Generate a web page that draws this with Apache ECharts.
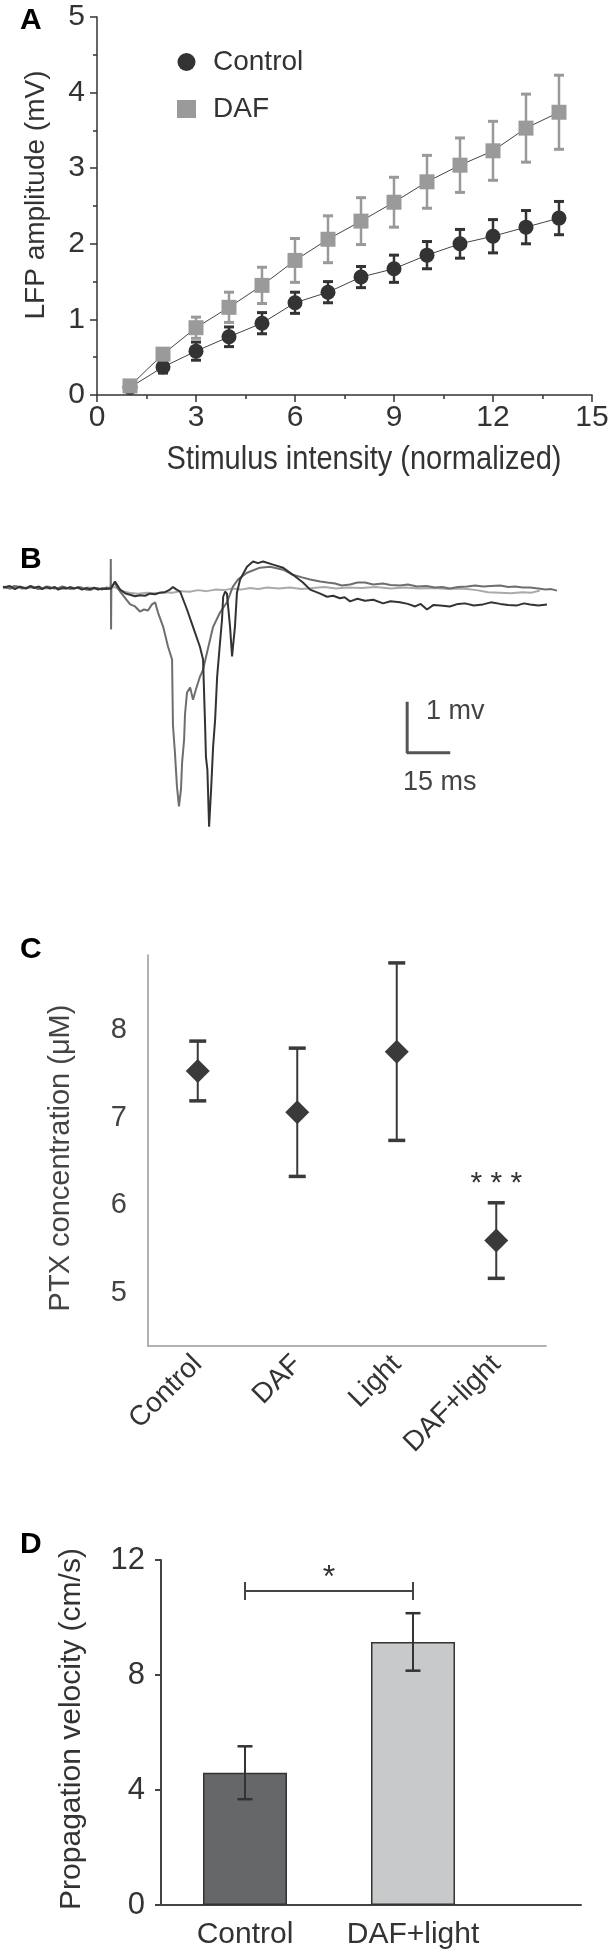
<!DOCTYPE html>
<html>
<head>
<meta charset="utf-8">
<script src="https://cdn.jsdelivr.net/npm/echarts@6/dist/echarts.min.js"></script>
<style>
html, body { margin: 0; padding: 0; background: #fff; }
#chart { width: 610px; height: 1957px; }
</style>
</head>
<body>
<div id="chart"></div>
<script>
//----- panel A : LFP amplitude vs stimulus intensity
var intensity = [1, 2, 3, 4, 5, 6, 7, 8, 9, 10, 11, 12, 13, 14];
var ctrlMean = [0.10, 0.37, 0.58, 0.77, 0.95, 1.22, 1.36, 1.56, 1.67, 1.85, 2.00, 2.10, 2.22, 2.34];
var ctrlErr  = [0.03, 0.08, 0.12, 0.13, 0.14, 0.14, 0.14, 0.14, 0.18, 0.18, 0.19, 0.22, 0.22, 0.22];
var dafMean  = [0.12, 0.54, 0.89, 1.16, 1.45, 1.78, 2.06, 2.30, 2.55, 2.82, 3.04, 3.23, 3.53, 3.74];
var dafErr   = [0.03, 0.04, 0.14, 0.20, 0.24, 0.29, 0.31, 0.31, 0.33, 0.35, 0.36, 0.39, 0.45, 0.49];

//----- panel B : example traces, [time ms, mV]
var traceLight = [[0,0.02],[3,0],[6,0.03],[9,0.01],[12,0.03],[15,0],[18,0.02],[21,-0.01],[24,0.02],[27,0],[30,0.02],[33,-0.01],[36,0.01],[39,0.03],[41,-0.04],[44,-0.08],[47,-0.1],[50,-0.08],[53,-0.09],[56,-0.07],[59,-0.08],[62,-0.05],[65,-0.06],[68,-0.03],[71,-0.05],[74,-0.02],[77,-0.03],[80,0],[83,-0.02],[86,0.01],[89,-0.01],[92,0.02],[96,0],[100,0.02],[104,-0.01],[108,0.01],[112,0.03],[116,0],[120,0.02],[125,0.01],[130,0.03],[135,0],[140,0.02],[145,0],[150,0.01],[155,-0.01],[160,0],[165,-0.03],[169,-0.07],[173,-0.08],[177,-0.09],[181,-0.07],[184,-0.08],[187,-0.04]];
var traceMid = [[0,0.04],[1.6,0.01],[2.4,0],[3.8,0.05],[5.2,0.04],[6.6,0],[8,0.01],[9.4,0.05],[10.8,0.03],[12.2,-0.01],[13.6,0],[15,0.04],[16.4,0.03],[17.8,0],[19.2,0.01],[20.6,0.04],[22,0.02],[23.4,-0.01],[24.7,0],[26.1,0.03],[27.5,0.02],[28.9,-0.02],[30.3,-0.03],[31.7,0],[33.1,0.01],[34.5,-0.02],[35.9,0.02],[37.5,0],[37.55,0.58],[37.65,-0.8],[37.75,0.05],[39,0.1],[40.8,-0.06],[42.5,-0.18],[44.3,-0.31],[46,-0.35],[47.7,-0.45],[49.1,-0.41],[50.5,-0.43],[51.9,-0.31],[53,-0.27],[54,-0.47],[55.8,-0.75],[57.5,-1.14],[58.9,-1.39],[59.2,-2.67],[59.9,-3.22],[60.6,-3.88],[61.3,-4.27],[62,-3.94],[62.4,-3.41],[63.1,-2.96],[63.4,-2.47],[64.1,-2.04],[65.2,-1.94],[66.2,-2.18],[67.2,-1.98],[68.6,-1.73],[69.7,-1.59],[71.1,-1.25],[73.2,-0.75],[75.6,-0.47],[78,-0.27],[80.1,0.04],[81.9,0.18],[85,0.31],[89.5,0.41],[93,0.43],[97.6,0.37],[101,0.27],[104.2,0.22],[107,0.18],[110.5,0.14],[113,0.12],[115.7,0.1],[118,0.06],[120.9,0.08],[123.5,0.12],[126.1,0.12],[129,0.08],[132.4,0.1],[135,0.07],[138.3,0.06],[141,0.08],[144.3,0.04],[147.5,0.05],[150.5,0.02],[153,0.03],[155.7,0],[158.5,0.03],[161.7,0.04],[164.5,0.06],[167.2,0.04],[170,0.05],[173.2,0.06],[176,0.03],[178.4,0.04],[181,0.02],[183.6,0.02],[186.5,0],[188.9,-0.02],[191,-0.01],[193,-0.04]];
var traceDark = [[0,0.02],[2.4,0.05],[4.2,-0.01],[5.8,0.04],[8,0],[9.6,0.05],[10.8,0.01],[12.5,0.04],[13.6,-0.01],[15.2,0.03],[16.4,0],[18,0.03],[19.2,-0.02],[21,0.02],[22,0],[23.5,0.03],[24.7,0],[26.2,0.02],[27.5,-0.02],[29,0.01],[30.3,-0.01],[31.8,0.02],[33.1,-0.02],[34.5,0],[35.9,-0.01],[37.6,0],[39,0.14],[40.8,-0.02],[42.5,-0.09],[44.3,-0.12],[46,-0.15],[47.7,-0.13],[49.5,-0.14],[51.2,-0.1],[53,-0.11],[54.7,-0.08],[56.4,-0.07],[58.2,-0.02],[59.2,0.03],[60.5,-0.02],[61.7,-0.06],[62.4,-0.16],[64.1,-0.41],[66.2,-0.75],[68.6,-1.14],[69.7,-1.39],[70.4,-2.67],[70.7,-3.3],[71.2,-3.55],[71.8,-4.67],[72.5,-3.94],[73.2,-3.1],[73.9,-2.57],[74.6,-1.73],[75.6,-1.06],[76.3,-0.61],[76.7,-0.16],[77.4,-0.06],[78,-0.1],[79.1,-0.75],[79.8,-1.33],[80.8,-0.75],[81.5,-0.08],[82.6,0.18],[85,0.43],[87.1,0.53],[88.8,0.5],[90.6,0.53],[94.1,0.47],[97.6,0.41],[101,0.27],[104.5,0.12],[107,-0.02],[110.5,-0.1],[112.9,-0.16],[115,-0.14],[117.4,-0.19],[119,-0.17],[120.9,-0.25],[123.5,-0.2],[126.1,-0.24],[129,-0.22],[132.4,-0.29],[135,-0.25],[138.3,-0.27],[141,-0.3],[143.6,-0.35],[145.5,-0.3],[147.7,-0.41],[150,-0.32],[152.3,-0.33],[155.7,-0.35],[158.5,-0.3],[161,-0.29],[164,-0.33],[167.2,-0.31],[170,-0.27],[173.2,-0.3],[176,-0.32],[179.1,-0.33],[181.5,-0.29],[183.6,-0.31],[186.5,-0.33],[189.5,-0.31]];
var scaleOrigin = [140.8, -3.22];   // corner of the scale bar
var scaleMs = 15, scaleMv = 1;

//----- panel C : PTX concentration
var ptxGroups = ['Control', 'DAF', 'Light', 'DAF+light'];
var ptxMean = [7.53, 7.06, 7.75, 5.60];
var ptxErr  = [0.34, 0.73, 1.01, 0.43];
var ptxTicks = [5, 6, 7, 8];

//----- panel D : propagation velocity
var velGroups = ['Control', 'DAF+light'];
var velMean = [4.60, 9.15];
var velErr  = [0.92, 1.00];
var velSigLevel = 10.92;

var FONT = 'Liberation Sans, Arial, sans-serif';

function errorBars(capW, lw, capLw, color) {
    return function (params, api) {
        var x = api.value(0);
        var lo = api.coord([x, api.value(1)]);
        var hi = api.coord([x, api.value(2)]);
        var h = capW / 2;
        return {
            type: 'group',
            children: [
                { type: 'line', shape: { x1: hi[0], y1: hi[1], x2: lo[0], y2: lo[1] }, style: { stroke: color, lineWidth: lw } },
                { type: 'line', shape: { x1: hi[0] - h, y1: hi[1], x2: hi[0] + h, y2: hi[1] }, style: { stroke: color, lineWidth: capLw } },
                { type: 'line', shape: { x1: lo[0] - h, y1: lo[1], x2: lo[0] + h, y2: lo[1] }, style: { stroke: color, lineWidth: capLw } }
            ]
        };
    };
}
function errData(xs, m, e) {
    return m.map(function (v, i) { return [xs[i], v - e[i], v + e[i]]; });
}
function textMark(txt, size) {
    return function (params, api) {
        var p = api.coord([api.value(0), api.value(1)]);
        return { type: 'text', x: p[0], y: p[1],
            style: { text: txt, fill: '#333', font: size + 'px ' + FONT, align: 'center', verticalAlign: 'middle' } };
    };
}

var dom = document.getElementById('chart');
var myChart = echarts.init(dom, null, { renderer: 'canvas' });

var option = {
    animation: false,
    backgroundColor: '#fff',
    textStyle: { fontFamily: FONT },
    grid: [
        { left: 97, top: 17, width: 495, height: 378, outerBoundsMode: 'none' },
        { left: 3, top: 558, width: 554, height: 311, outerBoundsMode: 'none' },
        { left: 148, top: 955, width: 398, height: 391, outerBoundsMode: 'none' },
        { left: 161, top: 1560, width: 420, height: 345, outerBoundsMode: 'none' }
    ],
    legend: {
        left: 172, top: 43, orient: 'vertical', itemGap: 19,
        itemWidth: 19, itemHeight: 18,
        textStyle: { fontSize: 28, color: '#333', fontFamily: FONT, padding: [0, 0, 0, 12] },
        data: [{ name: 'Control', icon: 'circle' }, { name: 'DAF', icon: 'rect' }]
    },
    xAxis: [
        { gridIndex: 0, type: 'value', min: 0, max: 15, interval: 3,
          axisLine: { lineStyle: { color: '#333', width: 1.5 } },
          axisTick: { show: true, length: 7, lineStyle: { color: '#333', width: 1.5 } },
          minorTick: { show: true, splitNumber: 2, length: 4, lineStyle: { color: '#333', width: 1.5 } },
          splitLine: { show: false },
          axisLabel: { fontSize: 30, color: '#333', margin: 8, fontFamily: FONT } },
        { gridIndex: 1, type: 'value', min: 0, max: 193, show: false },
        { gridIndex: 2, type: 'category', data: ptxGroups,
          axisLine: { lineStyle: { color: '#999', width: 1.5 } },
          axisTick: { show: false },
          axisLabel: { fontSize: 28, color: '#333', rotate: 45, margin: 14, interval: 0, fontFamily: FONT } },
        { gridIndex: 3, type: 'value', min: 0.5, max: 3,
          axisLine: { lineStyle: { color: '#444', width: 2 } },
          axisTick: { show: false },
          splitLine: { show: false },
          axisLabel: { fontSize: 30, color: '#333', margin: 15, fontFamily: FONT,
              customValues: [1, 2],
              formatter: function (v) { return velGroups[v - 1] || ''; } } }
    ],
    yAxis: [
        { gridIndex: 0, type: 'value', min: 0, max: 5, interval: 1,
          axisLine: { show: true, lineStyle: { color: '#333', width: 1.5 } },
          axisTick: { show: true, length: 7, lineStyle: { color: '#333', width: 1.5 } },
          minorTick: { show: true, splitNumber: 2, length: 4, lineStyle: { color: '#333', width: 1.5 } },
          splitLine: { show: false },
          axisLabel: { fontSize: 30, color: '#333', margin: 12, fontFamily: FONT } },
        { gridIndex: 1, type: 'value', min: -5.5, max: 0.6, show: false },
        { gridIndex: 2, type: 'value', min: 4.4, max: 8.85,
          axisLine: { show: true, lineStyle: { color: '#999', width: 1.5 } },
          axisTick: { show: false },
          splitLine: { show: false },
          axisLabel: { fontSize: 29, color: '#444', margin: 21, fontFamily: FONT,
              customValues: ptxTicks } },
        { gridIndex: 3, type: 'value', min: 0, max: 12, interval: 4,
          axisLine: { show: true, lineStyle: { color: '#444', width: 2 } },
          axisTick: { show: true, length: 6, lineStyle: { color: '#444', width: 2 } },
          splitLine: { show: false },
          axisLabel: { fontSize: 31, color: '#333', margin: 16, fontFamily: FONT } }
    ],
    series: [
        // A
        { type: 'custom', name: 'ctrlErr', xAxisIndex: 0, yAxisIndex: 0, z: 3,
          renderItem: errorBars(10, 2.5, 3, '#333'),
          encode: { x: 0, y: [1, 2] }, data: errData(intensity, ctrlMean, ctrlErr) },
        { type: 'custom', name: 'dafErr', xAxisIndex: 0, yAxisIndex: 0, z: 3,
          renderItem: errorBars(10, 2.5, 3, '#999'),
          encode: { x: 0, y: [1, 2] }, data: errData(intensity, dafMean, dafErr) },
        { type: 'line', name: 'Control', xAxisIndex: 0, yAxisIndex: 0, z: 4,
          symbol: 'circle', symbolSize: 15,
          itemStyle: { color: '#333', opacity: 1 },
          lineStyle: { color: '#444', width: 1 },
          data: intensity.map(function (x, i) { return [x, ctrlMean[i]]; }) },
        { type: 'line', name: 'DAF', xAxisIndex: 0, yAxisIndex: 0, z: 4,
          symbol: 'rect', symbolSize: 15,
          itemStyle: { color: '#9a9a9a', opacity: 1 },
          lineStyle: { color: '#444', width: 1 },
          data: intensity.map(function (x, i) { return [x, dafMean[i]]; }) },
        // B
        { type: 'line', xAxisIndex: 1, yAxisIndex: 1, showSymbol: false, z: 2,
          lineStyle: { color: '#aaaaaa', width: 2 }, data: traceLight },
        { type: 'line', xAxisIndex: 1, yAxisIndex: 1, showSymbol: false, z: 3,
          lineStyle: { color: '#6e6e6e', width: 2 }, data: traceMid },
        { type: 'line', xAxisIndex: 1, yAxisIndex: 1, showSymbol: false, z: 4,
          lineStyle: { color: '#333', width: 2 }, data: traceDark },
        { type: 'line', xAxisIndex: 1, yAxisIndex: 1, showSymbol: false,
          lineStyle: { color: '#555', width: 3 },
          data: [[scaleOrigin[0], scaleOrigin[1] + scaleMv], scaleOrigin, [scaleOrigin[0] + scaleMs, scaleOrigin[1]]] },
        // C
        { type: 'custom', xAxisIndex: 2, yAxisIndex: 2, z: 3,
          renderItem: errorBars(17, 2, 3.5, '#3a3a3a'),
          encode: { x: 0, y: [1, 2] }, data: errData([0, 1, 2, 3], ptxMean, ptxErr) },
        { type: 'scatter', xAxisIndex: 2, yAxisIndex: 2, z: 4,
          symbol: 'diamond', symbolSize: 24, itemStyle: { color: '#3a3a3a', opacity: 1 },
          data: ptxMean.map(function (v, i) { return [i, v]; }) },
        { type: 'custom', xAxisIndex: 2, yAxisIndex: 2, z: 4,
          renderItem: textMark('* * *', 30),
          data: [[3, ptxMean[3] + ptxErr[3] + 0.22]] },
        // D
        { type: 'bar', xAxisIndex: 3, yAxisIndex: 3, barWidth: 84, z: 2,
          itemStyle: { borderColor: '#333', borderWidth: 1.5 },
          data: velMean.map(function (v, i) {
              return { value: [i + 1, v], itemStyle: { color: i === 0 ? '#666769' : '#c8c9cb' } };
          }) },
        { type: 'custom', xAxisIndex: 3, yAxisIndex: 3, z: 3,
          renderItem: errorBars(15, 2, 2.5, '#333'),
          encode: { x: 0, y: [1, 2] }, data: errData([1, 2], velMean, velErr) },
        { type: 'custom', xAxisIndex: 3, yAxisIndex: 3, z: 3,
          renderItem: function (params, api) {
              var a = api.coord([api.value(0), api.value(2)]);
              var b = api.coord([api.value(1), api.value(2)]);
              var st = { stroke: '#444', lineWidth: 2 };
              return { type: 'group', children: [
                  { type: 'line', shape: { x1: a[0], y1: a[1], x2: b[0], y2: b[1] }, style: st },
                  { type: 'line', shape: { x1: a[0], y1: a[1] - 9, x2: a[0], y2: a[1] + 9 }, style: st },
                  { type: 'line', shape: { x1: b[0], y1: b[1] - 9, x2: b[0], y2: b[1] + 9 }, style: st }
              ] };
          },
          encode: { x: [0, 1], y: 2 }, data: [[1, 2, velSigLevel]] },
        { type: 'custom', xAxisIndex: 3, yAxisIndex: 3, z: 3,
          renderItem: textMark('*', 32),
          data: [[1.5, velSigLevel + 0.45]] }
    ],
    graphic: [
        { type: 'text', left: 20, top: 6, style: { text: 'A', font: 'bold 30px ' + FONT, fill: '#000' } },
        { type: 'text', left: 20, top: 545, style: { text: 'B', font: 'bold 30px ' + FONT, fill: '#000' } },
        { type: 'text', left: 20, top: 935, style: { text: 'C', font: 'bold 30px ' + FONT, fill: '#000' } },
        { type: 'text', left: 20, top: 1530, style: { text: 'D', font: 'bold 30px ' + FONT, fill: '#000' } },
        { type: 'text', x: 36, y: 195, rotation: Math.PI / 2,
          style: { text: 'LFP amplitude (mV)', font: '28px ' + FONT, fill: '#333', align: 'center', verticalAlign: 'middle' } },
        { type: 'text', x: 364, y: 460, scaleY: 1.15,
          style: { text: 'Stimulus intensity (normalized)', font: '29px ' + FONT, fill: '#333', align: 'center', verticalAlign: 'middle' } },
        { type: 'text', x: 426, y: 712,
          style: { text: '1 mv', font: '27px ' + FONT, fill: '#444', align: 'left', verticalAlign: 'middle' } },
        { type: 'text', x: 403, y: 783,
          style: { text: '15 ms', font: '27px ' + FONT, fill: '#444', align: 'left', verticalAlign: 'middle' } },
        { type: 'text', x: 61, y: 1158, rotation: Math.PI / 2,
          style: { text: 'PTX concentration (\u03bcM)', font: '29px ' + FONT, fill: '#444', align: 'center', verticalAlign: 'middle' } },
        { type: 'text', x: 72, y: 1729, rotation: Math.PI / 2,
          style: { text: 'Propagation velocity (cm/s)', font: '30px ' + FONT, fill: '#333', align: 'center', verticalAlign: 'middle' } }
    ]
};

if (option && typeof option === 'object') {
    myChart.setOption(option, true);
}
</script>
</body>
</html>
